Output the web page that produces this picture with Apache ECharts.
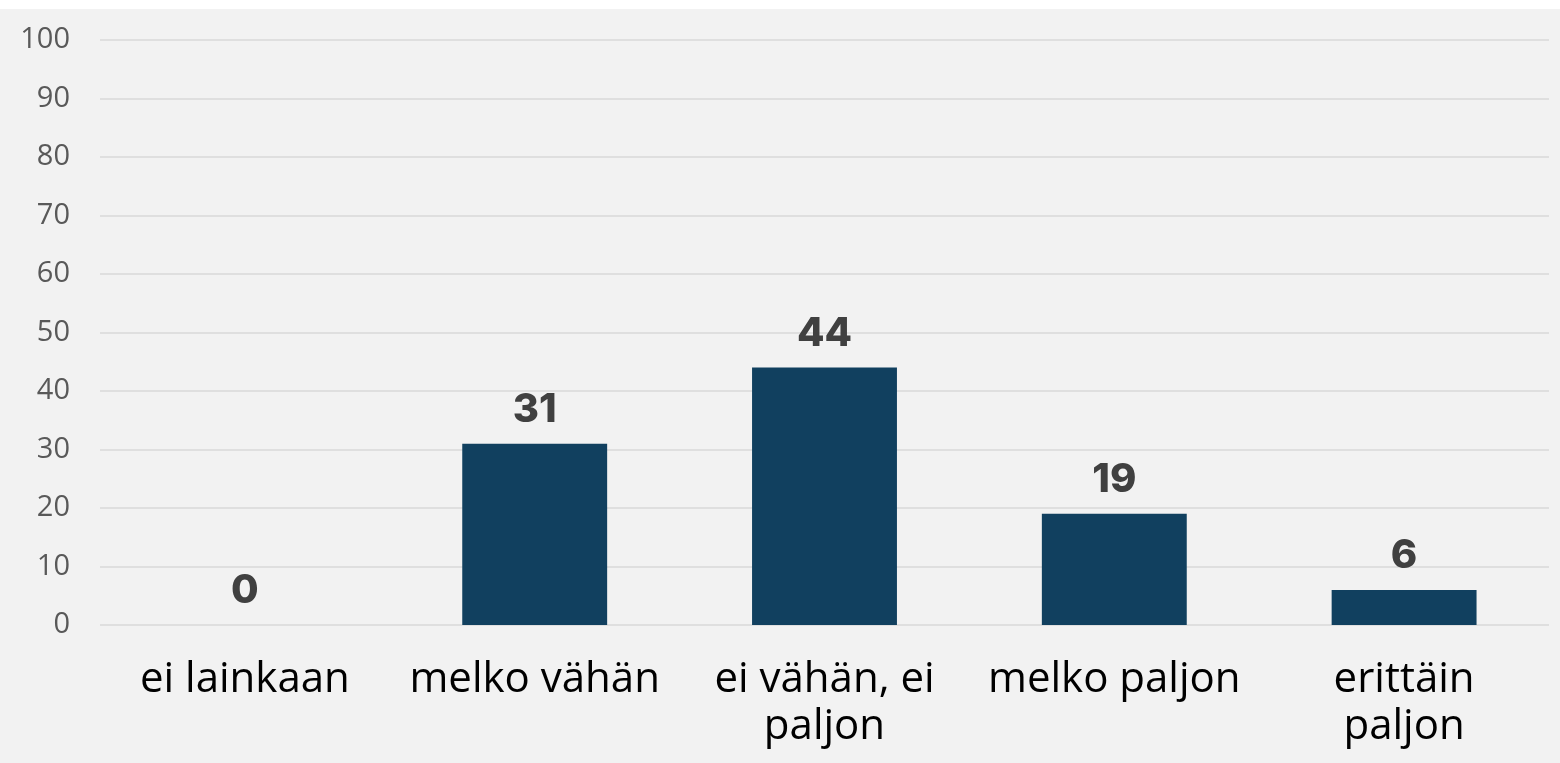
<!DOCTYPE html>
<html>
<head>
<meta charset="utf-8">
<script src="https://cdn.jsdelivr.net/npm/echarts@6/dist/echarts.min.js"></script>
<style>
  html, body { margin: 0; padding: 0; background: #ffffff; }
  #wrap { position: absolute; left: 0; top: 9px; width: 1560px; height: 754px; background: #f2f2f2; }
  #chart { width: 1560px; height: 754px; }
</style>
</head>
<body>
<div id="wrap"><div id="chart"></div></div>
<script>
// vastausvaihtoehdot
const categories = ['ei lainkaan', 'melko vähän', 'ei vähän, ei paljon', 'melko paljon', 'erittäin paljon']
// rivitetyt akselitekstit
const tickLabels = ['ei lainkaan', 'melko vähän', 'ei vähän, ei\npaljon', 'melko paljon', 'erittäin\npaljon']
const values = [0, 31, 44, 19, 6]

const chart = echarts.init(document.getElementById('chart'))

chart.setOption({
  backgroundColor: 'transparent',
  animation: false,
  grid: { left: 100, right: 11, top: 31, bottom: 138 },
  xAxis: {
    type: 'category',
    data: categories,
    axisLine: { show: false },
    axisTick: { show: false },
    axisLabel: {
      interval: 0,
      margin: 32,
      color: '#000000',
      fontSize: 42,
      lineHeight: 47,
      fontFamily: 'Open Sans',
      formatter: function (val, idx) {
        return tickLabels[idx]
      },
    },
  },
  yAxis: {
    type: 'value',
    min: 0,
    max: 100,
    interval: 10,
    axisLine: { show: false },
    axisTick: { show: false },
    axisLabel: {
      margin: 30,
      color: '#595959',
      fontSize: 29,
      fontFamily: 'Open Sans',
    },
    splitLine: { lineStyle: { color: '#d9d9d9', width: 1.5 } },
  },
  series: [
    {
      type: 'bar',
      data: values,
      barWidth: '50%',
      itemStyle: { color: '#11405f' },
      label: {
        show: true,
        position: 'top',
        distance: 14,
        color: '#404040',
        fontSize: 40,
        fontWeight: 800,
        fontFamily: 'Inter',
      },
    },
  ],
})
</script>
</body>
</html>
